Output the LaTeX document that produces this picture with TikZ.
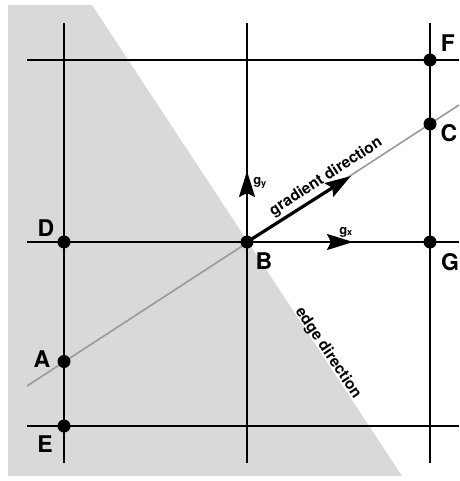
\documentclass[tikz,border=0pt]{standalone}
\usepackage{fontspec}
\setmainfont{TeX Gyre Heros}
\usetikzlibrary{arrows.meta}
\definecolor{shadegray}{gray}{0.85}
\definecolor{gline}{gray}{0.6}
\begin{document}
\begin{tikzpicture}[x=1pt,y=-1pt,
  gridline/.style={line width=2pt},
  graddir/.style={draw=gline,line width=1.6pt},
  dot/.style={circle,fill=black,inner sep=0pt,minimum size=13pt},
  lbl/.style={font=\fontsize{23}{23}\selectfont\bfseries,inner sep=0pt},
  small/.style={font=\fontsize{13}{13}\selectfont\bfseries,inner sep=0pt},
  mid/.style={font=\fontsize{15.5}{15.5}\selectfont\bfseries,inner sep=0pt},
  vec/.style={line width=2.5pt,-{Stealth[length=26pt,width=16pt,inset=4pt]}}]
\useasboundingbox (0,0) rectangle (459,481);
% shaded half-plane
\fill[fill=shadegray] (8,5) -- (92,5) -- (402,476) -- (8,476) -- cycle;
% named points
\coordinate (v1t) at (64,23);  \coordinate (v1b) at (64,463);
\coordinate (v2t) at (247,23); \coordinate (v2b) at (247,463);
\coordinate (v3t) at (430,23); \coordinate (v3b) at (430,463);
\coordinate (h1l) at (27,60);  \coordinate (h1r) at (459,60);
\coordinate (h2l) at (27,242); \coordinate (h2r) at (459,242);
\coordinate (h3l) at (27,426); \coordinate (h3r) at (459,426);
\coordinate (gl) at (27,386);  \coordinate (gr) at (459,105);
\coordinate (tipy) at (247,171);
\coordinate (tipx) at (353,242);
\coordinate (tipg) at (351,176);
% gradient line
\draw[graddir] (gl) -- (gr);
% grid
\draw[gridline] (v1t) -- (v1b);
\draw[gridline] (v2t) -- (v2b);
\draw[gridline] (v3t) -- (v3b);
\draw[gridline] (h1l) -- (h1r);
\draw[gridline] (h2l) -- (h2r);
\draw[gridline] (h3l) -- (h3r);
% dots
\node[dot] (A) at (64,361.5) {};
\node[dot] (B) at (247,242) {};
\node[dot] (C) at (430,124) {};
\node[dot] (D) at (64,242) {};
\node[dot] (E) at (64,426) {};
\node[dot] (F) at (430,60) {};
\node[dot] (G) at (430,242) {};
% vectors
\draw[vec] (B.center) -- (tipy);
\draw[vec] (B.center) -- (tipx);
\draw[vec,line width=3.2pt] (B.center) -- (tipg);
% labels
\node[lbl] (lA) at (42,359) {A};
\node[lbl] (lB) at (264,261) {B};
\node[lbl] (lC) at (449,133) {C};
\node[lbl] (lD) at (46,228) {D};
\node[lbl] (lE) at (45,444) {E};
\node[lbl] (lF) at (448,43) {F};
\node[lbl] (lG) at (450,262) {G};
\node[small] (ly) at (260,183) {g\textsubscript{y}};
\node[small] (lx) at (346,232) {g\textsubscript{x}};
\node[mid,rotate=33] (lgd) at (326,177) {gradient direction};
\node[mid,rotate=-56.3] (led) at (328,353) {edge direction};
\end{tikzpicture}
\end{document}
